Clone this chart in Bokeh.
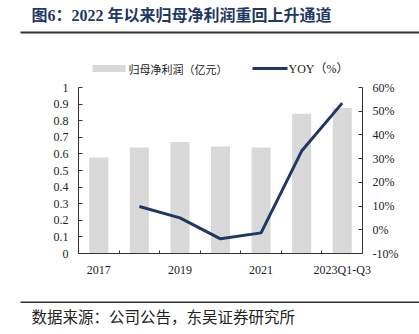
from bokeh.plotting import figure
from bokeh.layouts import column, row
from bokeh.models import (Range1d, LinearAxis, FixedTicker, PrintfTickFormatter,
                          Label, BoxAnnotation, ColumnDataSource)
from bokeh.core.properties import value
from bokeh.embed import file_html
from bokeh.resources import INLINE

# ---- data ----
categories = ["2017", "2018", "2019", "2020", "2021", "2022", "2023Q1-Q3"]
profit = [0.579, 0.639, 0.672, 0.645, 0.639, 0.842, 0.876]   # 归母净利润（亿元）
yoy_categories = ["2018", "2019", "2020", "2021", "2022", "2023Q1-Q3"]
yoy = [9.8, 5.0, -3.8, -1.3, 33.2, 53.4]                      # YOY（%）
shown_labels = ["2017", "2019", "2021", "2023Q1-Q3"]
profit_ticks = [round(i * 0.1, 1) for i in range(11)]
yoy_ticks = list(range(-10, 61, 10))

title_text = "图6：2022 年以来归母净利润重回上升通道"
source_text = "数据来源：公司公告，东吴证券研究所"
legend_bar = "归母净利润（亿元）"
legend_line = "YOY（%）"

W = 419
TITLE_H, MAIN_H, FOOT_H = 40, 255, 39
FRAME_TOP, FRAME_BOT = 58, 253          # page coordinates of main frame
AX_TOP = 87                             # page y of value 1 / 60%
BL, BR = 78, 57
SERIF = "Liberation Serif, Noto Sans CJK SC"
CJK = "Noto Sans CJK SC"
NAVY = "#1f3864"
RULE = "#333333"


def blank(height):
    f = figure(width=W, height=height, output_backend="svg", toolbar_location=None,
               x_range=Range1d(0, W), y_range=Range1d(height, 0),
               x_axis_type=None, y_axis_type=None,
               min_border=0, min_border_left=0, min_border_right=0,
               min_border_top=0, min_border_bottom=0)
    f.outline_line_color = None
    f.xgrid.visible = False
    f.ygrid.visible = False
    return f


# ---- title strip ----
t = blank(TITLE_H)
t.text(x=[31], y=[15], text=[title_text], text_font=value(SERIF), text_font_style="bold",
       text_font_size="16px", text_color=NAVY, text_baseline="middle")
t.quad(left=[20], right=[W], top=[31], bottom=[33], fill_color=RULE, line_color=None)

# ---- main chart ----
frac = (AX_TOP - FRAME_TOP) / (FRAME_BOT - AX_TOP)
p = figure(width=W, height=MAIN_H, output_backend="svg", toolbar_location=None,
           x_range=Range1d(-0.5, len(categories) - 0.5),
           y_range=Range1d(0, 1 + frac * 1.0),
           min_border_left=BL, min_border_right=BR,
           min_border_top=FRAME_TOP - TITLE_H,
           min_border_bottom=TITLE_H + MAIN_H - FRAME_BOT)
p.outline_line_color = None
p.xgrid.visible = False
p.ygrid.visible = False
p.extra_y_ranges = {"yoy": Range1d(-10, 60 + frac * 70)}

xi = list(range(len(categories)))
yoy_x = [categories.index(c) for c in yoy_categories]
bar_src = ColumnDataSource(dict(x=xi, top=profit))
p.vbar(x="x", top="top", width=0.47, source=bar_src, fill_color="#d9d9d9", line_color=None)
line_src = ColumnDataSource(dict(x=yoy_x, y=yoy))
p.line(x="x", y="y", source=line_src, y_range_name="yoy", line_color=NAVY, line_width=3)

xa = p.xaxis[0]
xa.ticker = FixedTicker(ticks=[categories.index(c) for c in shown_labels],
                        minor_ticks=[i - 0.5 for i in range(len(categories) + 1)])
xa.major_label_overrides = {categories.index(c): c for c in shown_labels}
xa.major_tick_in = 0
xa.major_tick_out = 0
xa.minor_tick_in = 3
xa.minor_tick_out = 0
xa.major_label_standoff = 9

ya = p.yaxis[0]
ya.ticker = FixedTicker(ticks=profit_ticks)
ya.formatter = PrintfTickFormatter(format="%g")
ya.bounds = (0, 1)

ra = LinearAxis(y_range_name="yoy", ticker=FixedTicker(ticks=yoy_ticks),
                formatter=PrintfTickFormatter(format="%d%%"))
ra.bounds = (-10, 60)
p.add_layout(ra, "right")

for ax in [ya, ra]:
    ax.major_tick_in = 4
    ax.major_tick_out = 0
    ax.minor_tick_in = 0
    ax.minor_tick_out = 0
    ax.major_label_standoff = 10

for ax in [xa, ya, ra]:
    ax.axis_line_color = RULE
    ax.major_tick_line_color = RULE
    ax.minor_tick_line_color = RULE
    ax.major_label_text_font = SERIF
    ax.major_label_text_font_size = "12px"
    ax.major_label_text_color = "#222222"


# legend (screen units: relative to frame's bottom-left, y upward)
def sx(x):
    return x - BL


def sy(y):
    return FRAME_BOT - y


def box(l, r, tp, b, color):
    return BoxAnnotation(left=sx(l), right=sx(r), top=sy(tp), bottom=sy(b),
                         left_units="screen", right_units="screen",
                         top_units="screen", bottom_units="screen",
                         fill_color=color, fill_alpha=1, line_color=None)


def label(x, y, text, font, size):
    return Label(x=sx(x), y=sy(y), x_units="screen", y_units="screen", text=text,
                 text_font=font, text_font_size=size, text_color="#222222",
                 text_baseline="middle")


p.add_layout(box(92, 125, 64.5, 71.5, "#d9d9d9"))
p.add_layout(label(128, 68, legend_bar, CJK, "11px"))
p.add_layout(box(252, 287, 66.5, 69.5, NAVY))
p.add_layout(label(288, 68, legend_line, SERIF, "12px"))

# ---- footer strip ----
f = blank(FOOT_H)
f.quad(left=[20], right=[W], top=[6], bottom=[7.5], fill_color=RULE, line_color=None)
f.text(x=[31], y=[20], text=[source_text], text_font=value(CJK),
       text_font_size="15.5px", text_color="#222222", text_baseline="middle")

layout = column(row(t), p, row(f), spacing=0)
open("out.html", "w").write(file_html(layout, INLINE))
